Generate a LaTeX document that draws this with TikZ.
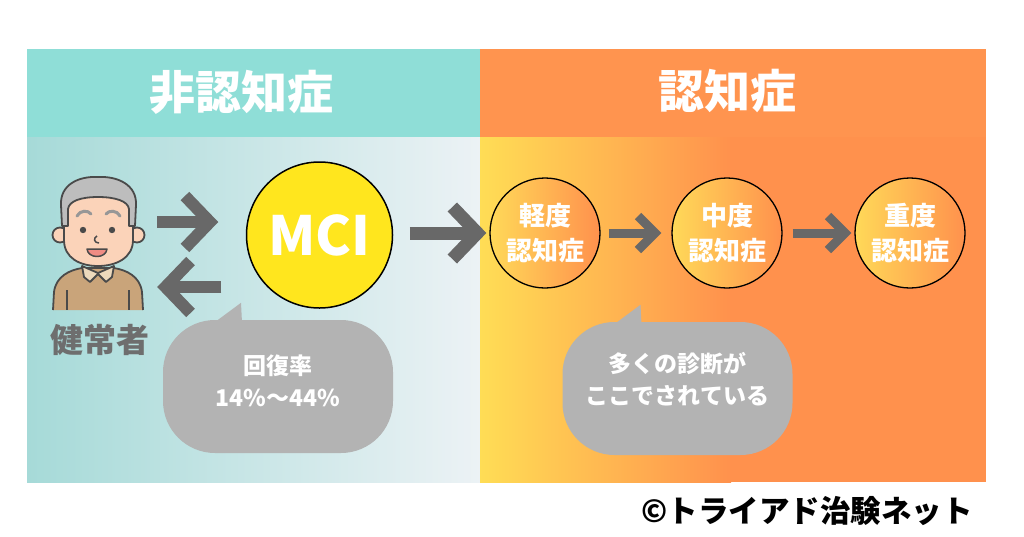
\documentclass[tikz,border=0pt]{standalone}
\usepackage{fontspec}
\newfontfamily\jpfont{Noto Sans CJK JP}
\usetikzlibrary{arrows.meta}
\definecolor{hdteal}{RGB}{143,222,215}
\definecolor{hdorange}{RGB}{255,148,79}
\definecolor{bgteal}{RGB}{166,218,216}
\definecolor{bgpale}{RGB}{236,242,245}
\definecolor{bgyellow}{RGB}{255,221,85}
\definecolor{bgorange}{RGB}{255,145,77}
\definecolor{ciryellow}{RGB}{255,217,88}
\definecolor{mciyellow}{RGB}{255,230,30}
\definecolor{arrgray}{RGB}{104,104,104}
\definecolor{bubgray}{RGB}{179,179,179}
\definecolor{namegray}{RGB}{110,110,110}
\definecolor{inkline}{RGB}{74,74,74}
\definecolor{skin}{RGB}{251,211,185}
\definecolor{hair}{RGB}{189,189,189}
\definecolor{shirt}{RGB}{201,164,122}
\definecolor{collar}{RGB}{236,217,188}
\definecolor{mouth}{RGB}{239,140,132}
\begin{document}
\begin{tikzpicture}
    [ x=1pt, y=-1pt
    , every node/.style={font=\jpfont\bfseries, text=white}
    , bandtext/.style={font=\jpfont\bfseries\fontsize{46}{50}\selectfont}
    , stage/.style={draw=black, line width=1.3pt, shape=circle, minimum size=110pt,
        inner sep=0pt, align=center,
        left color=ciryellow, middle color=bgorange, right color=bgorange,
        font=\jpfont\bfseries\fontsize{26}{35}\selectfont}
    , bubble/.style={fill=bubgray, shape=rectangle, rounded corners=52pt,
        minimum width=230pt, minimum height=133pt}
    , bubtext/.style={align=center, font=\jpfont\bfseries\fontsize{23}{32}\selectfont}
    , chev/.style={draw=arrgray, line width=13pt, -{Straight Barb[sharp, length=25pt, width=52pt]}}
    , smallchev/.style={draw=arrgray, line width=9pt, -{Straight Barb[sharp, length=17pt, width=34pt]}}
    , ink/.style={draw=inkline, line width=1.8pt, line join=round}
    ]
    \useasboundingbox (0,0) rectangle (1024,536);
    % bands
    \fill [hdteal] (27,49) rectangle (480,137);
    \fill [hdorange] (480,49) rectangle (986,137);
    \shade [left color=bgteal, right color=bgpale] (27,137) rectangle (480,482);
    \shade [left color=bgyellow, right color=bgorange] (480,137) rectangle (731,482);
    \fill [bgorange] (730,137) rectangle (986,482);
    \node [bandtext] (nonlab) at (241,92) {非認知症};
    \node [bandtext] (demlab) at (727,91) {認知症};

    % healthy elder
    \node (elder) [minimum width=90pt, minimum height=135pt] at (98,243) {};
    \fill [shirt] (53,310) -- (54,292) .. controls (56,276) and (70,270) .. (82,268)
      -- (114,268) .. controls (126,270) and (140,276) .. (142,292) -- (143,310) -- cycle;
    \draw [ink] (53,310) -- (54,292) .. controls (56,276) and (70,270) .. (82,268)
      -- (114,268) .. controls (126,270) and (140,276) .. (142,292) -- (143,310);
    \draw [ink] (67,290) -- (67,310) (129,290) -- (129,310);
    \filldraw [ink, fill=collar] (82,266) -- (98,273) -- (114,266) -- (112,277)
      -- (106,282) -- (98,274) -- (90,282) -- (84,277) -- cycle;
    \filldraw [ink, fill=skin] (60,235) circle (7.5) (137,235) circle (7.5);
    \filldraw [ink, fill=skin] (64,215) -- (64,240) .. controls (64,258) and (80,266) .. (98,266)
      .. controls (116,266) and (133,258) .. (133,240) -- (133,215)
      .. controls (133,195) and (118,190) .. (98,190) .. controls (78,190) and (64,195) .. (64,215) -- cycle;
    \filldraw [ink, fill=hair] (62,226) -- (61,205) .. controls (60,185) and (78,176) .. (98,177)
      .. controls (118,176) and (137,185) .. (136,205) -- (135,226) -- (129,226) -- (129,209)
      .. controls (128,201) and (115,197) .. (98,197) .. controls (81,197) and (69,201) .. (68,209)
      -- (68,226) -- cycle;
    \draw [draw=hair!80!black, line width=3pt, line cap=round]
      (77,216) .. controls (80,210) and (88,210) .. (91,214)
      (106,214) .. controls (109,210) and (117,210) .. (120,216);
    \fill [inkline] (83,230) circle (3.2) (112,230) circle (3.2);
    \draw [ink, line width=1.5pt] (97,236) .. controls (93,238) and (94,243) .. (99,243);
    \filldraw [ink, fill=mouth, line width=1.5pt] (87,249) .. controls (88,259) and (106,259) .. (107,249) -- cycle;
    \node [text=namegray, font=\jpfont\bfseries\fontsize{33}{36}\selectfont] (healthy) at (100,340) {健常者};

    % stages
    \node [draw=black, line width=1.5pt, shape=circle, fill=mciyellow, minimum size=146pt,
      font=\jpfont\bfseries\fontsize{54}{58}\selectfont] (mci) at (319.5,235) {MCI};
    \node [stage] (mild) at (545,233) {軽度\\認知症};
    \node [stage] (moderate) at (727,233) {中度\\認知症};
    \node [stage] (severe) at (910,233) {重度\\認知症};

    % transitions
    \draw [chev, line width=12pt, shorten <=14pt, shorten >=27.5pt] (elder.east |- 0,222) -- (mci.west |- 0,222);
    \draw [chev, line width=12pt, shorten <=24.5pt, shorten >=14pt] (mci.west |- 0,287) -- (elder.east |- 0,287);
    \draw [chev, shorten <=16.5pt, shorten >=3pt] (mci.east |- 0,233) -- (mild.west);
    \draw [smallchev, shorten <=8pt, shorten >=10pt] (mild) -- (moderate);
    \draw [smallchev, shorten <=10pt, shorten >=3pt] (moderate) -- (severe);

    % callouts
    \node [bubble] (rate) at (278,386.5) {};
    \node [bubble] (diag) at (677.5,388.5) {};
    \foreach \b in {rate, diag}
      \fill [bubgray] ([xshift=-64pt,yshift=-3pt]\b.north) -- ([xshift=-37pt,yshift=17pt]\b.north)
        -- ([xshift=-36pt,yshift=-3pt]\b.north) -- cycle;
    \node [bubtext] (ratetext) at ([yshift=6pt]rate.center) {回復率\\14\%〜44\%};
    \node [bubtext] (diagtext) at ([yshift=9pt]diag.center) {多くの診断が\\ここでされている};

    \node [text=black, font=\jpfont\bfseries\fontsize{30.5}{34}\selectfont] (credit) at (807,511) {©トライアド治験ネット};
  \end{tikzpicture}
\end{document}
